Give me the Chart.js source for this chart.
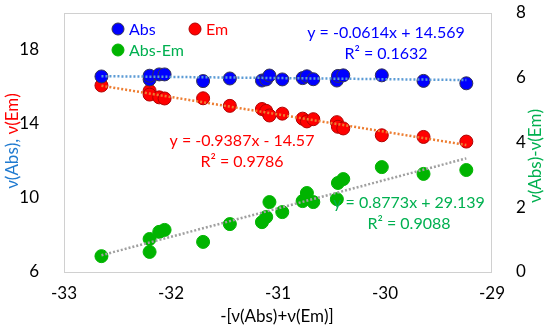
<!DOCTYPE html>
<html>
<head>
<meta charset="utf-8">
<script src="https://cdn.jsdelivr.net/npm/chart.js@4"></script>
<style>
  body { margin: 0; background: #fff; }
  #wrap { width: 550px; height: 334px; }
</style>
</head>
<body>
<div id="wrap"><canvas id="myChart"></canvas></div>
<script>
// -[v(Abs)+v(Em)] for each sample
const xVals = [-32.65, -32.20, -32.20, -32.11, -32.06, -31.70, -31.45, -31.15, -31.11, -31.08,
    -30.96, -30.77, -30.73, -30.67, -30.45, -30.44, -30.39, -30.03, -29.64, -29.24];
const absVals = [16.57, 16.41, 16.61, 16.68, 16.68, 16.32, 16.46, 16.35, 16.41, 16.62,
    16.41, 16.48, 16.58, 16.42, 16.35, 16.60, 16.63, 16.63, 16.33, 16.20];
const emVals = [16.08, 15.79, 15.59, 15.44, 15.38, 15.39, 14.98, 14.81, 14.71, 14.46,
    14.56, 14.29, 14.14, 14.26, 14.10, 13.85, 13.76, 13.39, 13.30, 13.05];
const diffVals = [0.49, 0.62, 1.02, 1.24, 1.30, 0.93, 1.48, 1.54, 1.70, 2.16,
    1.85, 2.19, 2.44, 2.16, 2.25, 2.75, 2.87, 3.24, 3.03, 3.15];

const xTicks = [-33, -32, -31, -30, -29];
const leftTicks = [6, 10, 14, 18];
const rightTicks = [0, 2, 4, 6, 8];

const seriesNames = ['Abs', 'Em', 'Abs-Em'];
const equations = [
    ['y = -0.0614x + 14.569', 'R² = 0.1632'],
    ['y = -0.9387x - 14.57', 'R² = 0.9786'],
    ['y = 0.8773x + 29.139', 'R² = 0.9088'],
];

const FONT = 'Lato, "Open Sans", sans-serif';

function pts(ys) {
    return xVals.map((x, i) => ({ x: x, y: ys[i] }));
}

// least squares line between the first and last x
function trend(ys) {
    const n = xVals.length;
    let sx = 0, sy = 0, sxx = 0, sxy = 0;
    for (let i = 0; i < n; i++) {
        sx += xVals[i]; sy += ys[i];
        sxx += xVals[i] * xVals[i]; sxy += xVals[i] * ys[i];
    }
    const a = (n * sxy - sx * sy) / (n * sxx - sx * sx);
    const b = (sy - a * sx) / n;
    const lo = Math.min(...xVals), hi = Math.max(...xVals);
    return [{ x: lo, y: a * lo + b }, { x: hi, y: a * hi + b }];
}

function trendSet(ys, color, axis) {
    return {
        type: 'line',
        data: trend(ys),
        yAxisID: axis,
        borderColor: color,
        borderWidth: 2.5,
        borderDash: [2, 2],
        pointRadius: 0,
        fill: false,
        order: 0,
    };
}

function dotSet(label, ys, fill, edge, axis) {
    return {
        label: label,
        data: pts(ys),
        yAxisID: axis,
        backgroundColor: fill,
        borderColor: edge,
        borderWidth: 1,
        pointRadius: 6.5,
        order: 1,
    };
}

const fixTicks = (list) => (scale) => {
    scale.ticks = list.map(v => ({ value: v }));
};

const fitY = (w) => (s) => {
    s.width = w;
    s.paddingTop = 0;
    s.paddingBottom = 0;
};

const decor = {
    id: 'decor',
    beforeDatasetsDraw(chart) {
        const { ctx, chartArea: a } = chart;
        ctx.save();
        ctx.strokeStyle = '#d0d0d0';
        ctx.lineWidth = 1;
        ctx.strokeRect(a.left + 0.5, a.top + 0.5, a.right - a.left - 1, a.bottom - a.top);
        ctx.restore();
    },
    afterDraw(chart) {
        const ctx = chart.ctx;
        ctx.save();
        ctx.font = '16px ' + FONT;
        ctx.textBaseline = 'middle';

        // legend
        const leg = [
            [118, 29, '#0000ff', '#333355', '#0000ff'],
            [195, 29, '#ff0000', '#b00000', '#ff0000'],
            [118, 50, '#00b400', '#00b400', '#00b050'],
        ];
        leg.forEach((l, i) => {
            ctx.beginPath();
            ctx.arc(l[0], l[1], 6, 0, Math.PI * 2);
            ctx.fillStyle = l[2];
            ctx.fill();
            ctx.strokeStyle = l[3];
            ctx.stroke();
            ctx.fillStyle = l[4];
            ctx.textAlign = 'left';
            ctx.fillText(seriesNames[i], l[0] + 11, l[1] + 1);
        });

        // trendline labels
        ctx.textAlign = 'center';
        const eqPos = [[386, 33, '#0000ff'], [242, 141, '#ff0000'], [409, 203, '#00b050']];
        eqPos.forEach((p, i) => {
            ctx.fillStyle = p[2];
            ctx.fillText(equations[i][0], p[0], p[1]);
            ctx.fillText(equations[i][1], p[0], p[1] + 21);
        });

        // x title
        ctx.font = '17px ' + FONT;
        ctx.fillStyle = '#000';
        ctx.fillText('-[ν(Abs)+ν(Em)]', 277, 317);

        // left title, two colours
        ctx.save();
        ctx.translate(13, 141);
        ctx.rotate(-Math.PI / 2);
        const p1 = 'ν(Abs), ', p2 = 'ν(Em)';
        const w1 = ctx.measureText(p1).width, w2 = ctx.measureText(p2).width;
        ctx.textAlign = 'left';
        ctx.fillStyle = '#1f7ad0';
        ctx.fillText(p1, -(w1 + w2) / 2, 0);
        ctx.fillStyle = '#ff0000';
        ctx.fillText(p2, -(w1 + w2) / 2 + w1, 0);
        ctx.restore();

        // right title
        ctx.save();
        ctx.translate(536, 156);
        ctx.rotate(-Math.PI / 2);
        ctx.fillStyle = '#00b050';
        ctx.fillText('ν(Abs)-ν(Em)', 0, 0);
        ctx.restore();

        ctx.restore();
    }
};

const tickFont = { family: FONT, size: 17 };

const config = {
    type: 'scatter',
    data: {
        datasets: [
            trendSet(absVals, '#5b9bd5', 'y'),
            trendSet(emVals, '#ed7d31', 'y'),
            trendSet(diffVals, '#a0a0a0', 'y2'),
            dotSet('Abs', absVals, '#0000ff', '#333355', 'y'),
            dotSet('Em', emVals, '#ff0000', '#b00000', 'y'),
            dotSet('Abs-Em', diffVals, '#00b400', '#00b400', 'y2'),
        ]
    },
    options: {
        responsive: true,
        maintainAspectRatio: false,
        animation: false,
        layout: { padding: { top: 13, left: 0, right: 0, bottom: 0 } },
        plugins: { legend: { display: false }, tooltip: { enabled: false } },
        scales: {
            x: {
                type: 'linear', min: -33, max: -29,
                afterBuildTicks: fixTicks(xTicks),
                afterFit: (s) => { s.height = 62; s.paddingLeft = 0; s.paddingRight = 0; },
                grid: { display: false },
                border: { display: false },
                ticks: { font: tickFont, color: '#000', padding: 3, maxRotation: 0 },
            },
            y: {
                position: 'left', min: 6, max: 20,
                afterBuildTicks: fixTicks(leftTicks),
                afterFit: fitY(64),
                grid: { display: false },
                border: { display: false },
                ticks: { font: tickFont, color: '#000', padding: 17 },
            },
            y2: {
                position: 'right', min: 0, max: 8,
                afterBuildTicks: fixTicks(rightTicks),
                afterFit: fitY(58),
                grid: { display: false },
                border: { display: false },
                ticks: { font: tickFont, color: '#000', padding: 16 },
            },
        }
    },
    plugins: [decor]
};

const myChart = new Chart(document.getElementById('myChart'), config);
</script>
</body>
</html>
